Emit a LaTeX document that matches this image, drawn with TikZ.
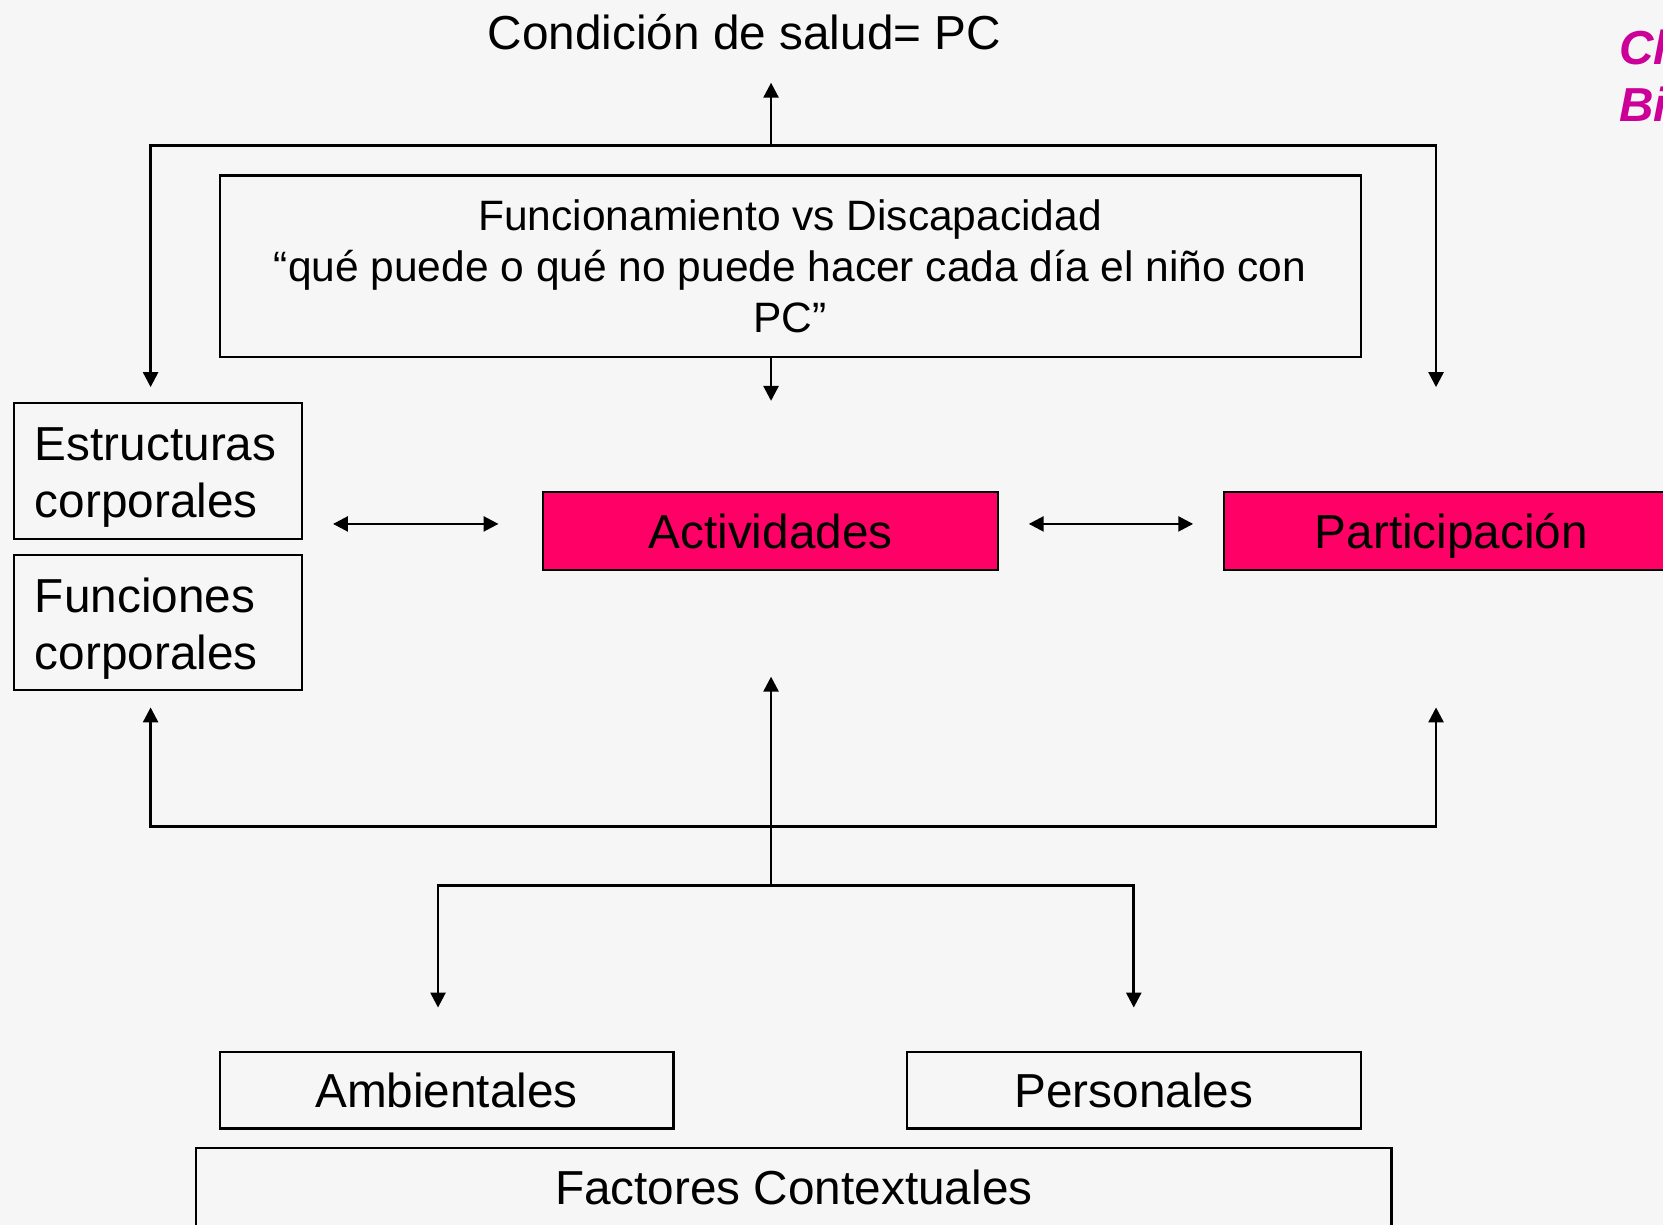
\documentclass[tikz,border=0pt]{standalone}
\usepackage{fontspec}
\setmainfont{Liberation Sans}
\usetikzlibrary{arrows.meta}
\definecolor{fondo}{RGB}{246,246,246}
\definecolor{rosa}{RGB}{255,0,102}
\definecolor{titulo}{RGB}{204,0,153}

\begin{document}
\begin{tikzpicture}[
        >={Triangle[length=4pt, width=4pt]},
        line width=0.7pt,
        caja/.style={draw, line width=0.55pt, inner sep=0pt},
        cajarosa/.style={caja, fill=rosa, text height=0.33cm, text depth=0cm},
        cajacuerpo/.style={caja, minimum width=2.72cm, minimum height=1.28cm, text width=2.32cm, inner xsep=0.2cm, align=left,
            execute at begin node={\rule{0pt}{0.44cm}}},
        grande/.style={font=\fontsize{12.8}{15.4}\selectfont},
        titulos/.style={anchor=base west, text=titulo, font=\fontsize{12.8}{15.4}\selectfont\bfseries\itshape},
    ]
        \useasboundingbox (0, 0) rectangle (15.68, -11.55);
        \fill[fondo] (0, 0) rectangle (15.68, -11.55);

        \path (7.02, -0.47)  node[grande, anchor=base] (cond) {Condición de salud= PC};
        \path (15.14, -0.61) node[titulos] (tit1) {Cl};
        \path (15.14, -1.15) node[titulos] (tit2) {Bi};

        \path (7.45, -2.51) node[caja, minimum width=10.76cm, minimum height=1.71cm, align=center, font=\fontsize{11.4}{13.7}\selectfont] (func) {Funcionamiento vs Discapacidad\\“qué puede o qué no puede hacer cada día el niño con\\PC”};

        \path (1.49, -4.44)  node[cajacuerpo, grande] (est) {Estructuras\\corporales};
        \path (1.49, -5.87)  node[cajacuerpo, grande] (fun) {Funciones\\corporales};
        \path (7.265, -5.005)  node[cajarosa, grande, minimum width=4.29cm, minimum height=0.73cm] (act) {Actividades};
        \path (13.685, -5.005) node[cajarosa, grande, minimum width=4.29cm, minimum height=0.73cm] (par) {Participación};

        \path (4.21, -10.28)  node[caja, grande, minimum width=4.28cm, minimum height=0.72cm] (amb) {Ambientales};
        \path (10.69, -10.28) node[caja, grande, minimum width=4.28cm, minimum height=0.72cm] (per) {Personales};
        \path (7.485, -11.20) node[caja, grande, minimum width=11.27cm, minimum height=0.76cm] (fac) {Factores Contextuales};

        \coordinate (arriba)    at (7.27, -1.37);
        \coordinate (condpunta) at (7.27, -0.78);
        \coordinate (estpunta)  at (1.42, -3.65);
        \coordinate (parpunta)  at (13.54, -3.65);
        \coordinate (actpunta)  at (7.27, -3.78);
        \coordinate (izq1)      at (3.14, -4.94);
        \coordinate (der1)      at (4.70, -4.94);
        \coordinate (izq2)      at (9.70, -4.94);
        \coordinate (der2)      at (11.25, -4.94);
        \coordinate (funpunta)  at (1.42, -6.67);
        \coordinate (parpunta2) at (13.54, -6.67);
        \coordinate (actpunta2) at (7.27, -6.38);
        \coordinate (abajo)     at (7.27, -7.79);
        \coordinate (ramal)     at (7.27, -8.35);
        \coordinate (ambpunta)  at (4.13, -9.50);
        \coordinate (perpunta)  at (10.69, -9.50);

        \draw[->] (arriba) -- (condpunta);
        \draw[<->] (estpunta) |- (arriba) -| (parpunta);
        \draw[->] (func.south -| actpunta) -- (actpunta);

        \draw[<->] (izq1) -- (der1);
        \draw[<->] (izq2) -- (der2);

        \draw[<->] (funpunta) |- (abajo) -| (parpunta2);
        \draw[->] (ramal) -- (actpunta2);
        \draw[<->] (ambpunta) |- (ramal) -| (perpunta);
    \end{tikzpicture}
\end{document}
